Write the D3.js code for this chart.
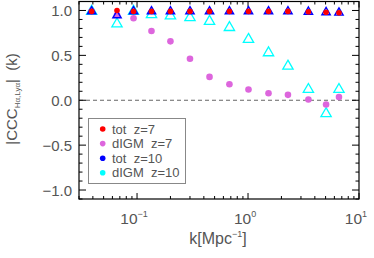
<!DOCTYPE html>
<html>
<head>
<meta charset="utf-8">
<script src="https://cdn.jsdelivr.net/npm/d3@7"></script>
<style>
  body { margin: 0; background: #fff; }
  text { font-family: "Liberation Sans", Arial, sans-serif; fill: #555; }
</style>
</head>
<body>
<svg id="chart" width="374" height="258"></svg>
<script>
// wavenumbers k [Mpc^-1]
var kValues = [0.039, 0.066, 0.093, 0.135, 0.20, 0.30, 0.45, 0.68, 1.01, 1.53, 2.29, 3.5, 5.05, 6.6];

// cross-correlation coefficients
var totZ7   = [0.99, 1.00, 0.99, 0.99, 0.99, 0.99, 0.99, 0.99, 0.99, 0.99, 0.99, 0.985, 0.98, 0.975];
var digmZ7  = [0.99, 0.95, 0.913, 0.771, 0.656, 0.462, 0.26, 0.179, 0.119, 0.078, 0.06, 0.008, -0.048, 0.037];
var totZ10  = [0.99, 0.945, 0.99, 0.99, 0.99, 0.99, 0.99, 0.99, 0.99, 0.99, 0.99, 0.985, 0.98, 0.975];
var digmZ10 = [0.99, 0.85, 0.99, 0.953, 0.94, 0.92, 0.879, 0.81, 0.678, 0.529, 0.38, 0.12, -0.149, 0.12];

var legendLabels = ["tot  z=7", "dIGM  z=7", "tot  z=10", "dIGM  z=10"];
var legendColors = ["#ff0000", "#dd66dd", "#0000ff", "#00ffff"];

var yMajor = [-1.0, -0.5, 0.0, 0.5, 1.0];
var yLabels = ["\u22121.0", "\u22120.5", "0.0", "0.5", "1.0"];
var xMajor = [0.1, 1, 10];
var xExp = ["\u22121", "0", "1"];

var svg = d3.select("#chart");
var pLeft = 79, pRight = 359, pTop = 1.5, pBottom = 199;

var x = d3.scaleLog().domain([0.03, 10]).range([pLeft, pRight]);
var y = d3.scaleLinear().domain([-1.1, 1.1]).range([pBottom, pTop]);

// minor ticks
var yMinor = d3.range(-11, 12).map(function(i){ return i / 10; })
    .filter(function(v){ return Math.abs(Math.round(v * 10) % 5) !== 0; });
var xMinor = [];
[0.01, 0.1, 1].forEach(function(d){
    for (var i = 2; i <= 9; i++) {
        var v = d * i;
        if (v >= 0.03 && v <= 10) xMinor.push(v);
    }
});

var g = svg.append("g");

// zero line
g.append("line")
    .attr("x1", pLeft).attr("x2", pRight)
    .attr("y1", y(0)).attr("y2", y(0))
    .attr("stroke", "#666").attr("stroke-width", 1)
    .attr("stroke-dasharray", "4,3");

// ticks on all four sides, pointing inward
function yTicks(vals, len) {
    vals.forEach(function(v){
        g.append("line").attr("x1", pLeft).attr("x2", pLeft + len)
            .attr("y1", y(v)).attr("y2", y(v)).attr("stroke", "#000");
        g.append("line").attr("x1", pRight).attr("x2", pRight - len)
            .attr("y1", y(v)).attr("y2", y(v)).attr("stroke", "#000");
    });
}
function xTicks(vals, len) {
    vals.forEach(function(v){
        g.append("line").attr("y1", pBottom).attr("y2", pBottom - len)
            .attr("x1", x(v)).attr("x2", x(v)).attr("stroke", "#000");
        g.append("line").attr("y1", pTop).attr("y2", pTop + len)
            .attr("x1", x(v)).attr("x2", x(v)).attr("stroke", "#000");
    });
}
yTicks(yMajor, 7);
yTicks(yMinor, 3.5);
xTicks(xMajor, 6);
xTicks(xMinor, 3);

// frame
g.append("rect")
    .attr("x", pLeft).attr("y", pTop)
    .attr("width", pRight - pLeft).attr("height", pBottom - pTop)
    .attr("fill", "none").attr("stroke", "#000").attr("stroke-width", 1.2);

// tick labels
yMajor.forEach(function(v, i){
    g.append("text").attr("x", 72).attr("y", y(v) + 5.5)
        .attr("text-anchor", "end").attr("font-size", 15)
        .text(yLabels[i]);
});
xMajor.forEach(function(v, i){
    var t = g.append("text").attr("x", x(v) - 3).attr("y", 224)
        .attr("text-anchor", "middle").attr("font-size", 15.5);
    t.append("tspan").text("10");
    t.append("tspan").attr("font-size", 9).attr("dy", -7).text(xExp[i]);
});

// axis titles
var xt = g.append("text").attr("x", 218).attr("y", 244)
    .attr("text-anchor", "middle").attr("font-size", 16);
xt.append("tspan").text("k[Mpc");
xt.append("tspan").attr("font-size", 9).attr("dy", -7).text("\u22121");
xt.append("tspan").attr("dy", 7).text("]");

var yt = g.append("text").attr("transform", "translate(17,99) rotate(-90)")
    .attr("text-anchor", "middle").attr("font-size", 15)
    .attr("xml:space", "preserve").style("white-space", "pre");
yt.append("tspan").text("|CCC");
yt.append("tspan").attr("font-size", 8).attr("dy", 3).text("H\u03b1,Ly\u03b1");
yt.append("tspan").attr("dy", -3).text("|  (k)");

// markers (dIGM z=10 drawn first, underneath the others)
var small = d3.symbol().type(d3.symbolTriangle).size(30);
var big = d3.symbol().type(d3.symbolTriangle).size(46);

g.selectAll(".digm10").data(digmZ10).enter().append("path")
    .attr("d", big)
    .attr("transform", function(d, i){ return "translate(" + x(kValues[i]) + "," + y(d) + ")"; })
    .attr("fill", "none").attr("stroke", legendColors[3]).attr("stroke-width", 1.3);

g.selectAll(".digm7").data(digmZ7).enter().append("circle")
    .attr("cx", function(d, i){ return x(kValues[i]); })
    .attr("cy", function(d){ return y(d); })
    .attr("r", 3.3).attr("fill", legendColors[1]);

g.selectAll(".tot10").data(totZ10).enter().append("path")
    .attr("d", small)
    .attr("transform", function(d, i){ return "translate(" + x(kValues[i]) + "," + y(d) + ")"; })
    .attr("fill", "none").attr("stroke", legendColors[2]).attr("stroke-width", 1.4);

g.selectAll(".tot7").data(totZ7).enter().append("circle")
    .attr("cx", function(d, i){ return x(kValues[i]); })
    .attr("cy", function(d){ return y(d); })
    .attr("r", 2.8).attr("fill", legendColors[0]);

// legend
var lg = g.append("g");
lg.append("rect").attr("x", 88.5).attr("y", 118.5).attr("width", 97).attr("height", 65)
    .attr("fill", "#fff").attr("stroke", "#888").attr("stroke-width", 1);
legendLabels.forEach(function(name, i){
    var ly = 129 + i * 14.6;
    lg.append("circle").attr("cx", 102.7).attr("cy", ly).attr("r", 2.8).attr("fill", legendColors[i]);
    lg.append("text").attr("x", 112).attr("y", ly + 4.5).attr("font-size", 13)
        .attr("xml:space", "preserve").style("white-space", "pre").text(name);
});
</script>
</body>
</html>
